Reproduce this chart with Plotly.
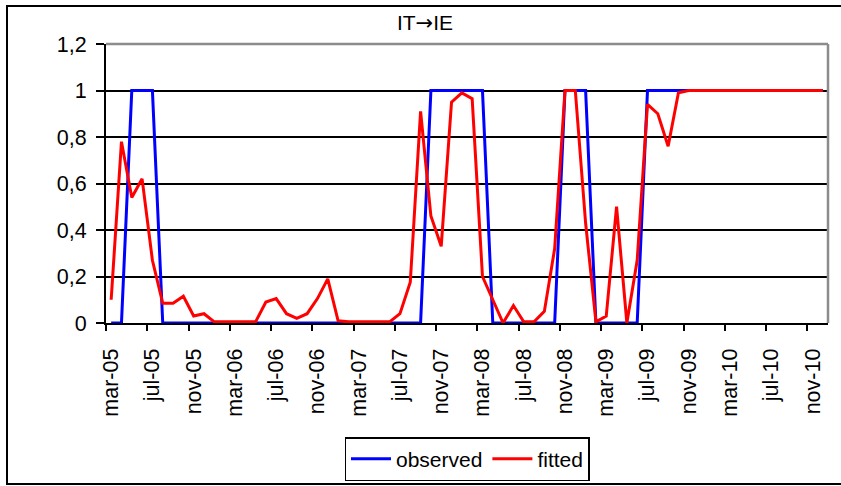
import plotly.graph_objects as go

# Monthly series, mar-05 .. dec-10 (70 months)
tick_labels = ["mar-05", "jul-05", "nov-05", "mar-06", "jul-06", "nov-06",
               "mar-07", "jul-07", "nov-07", "mar-08", "jul-08", "nov-08",
               "mar-09", "jul-09", "nov-09", "mar-10", "jul-10", "nov-10"]

observed = [0, 0, 1, 1, 1, 0, 0, 0, 0, 0,
            0, 0, 0, 0, 0, 0, 0, 0, 0, 0,
            0, 0, 0, 0, 0, 0, 0, 0, 0, 0,
            0, 1, 1, 1, 1, 1, 1, 0, 0, 0,
            0, 0, 0, 0, 1, 1, 1, 0, 0, 0,
            0, 0, 1, 1, 1, 1, 1, 1, 1, 1,
            1, 1, 1, 1, 1, 1, 1, 1, 1, 1]

fitted = [0.10, 0.78, 0.54, 0.62, 0.27, 0.085, 0.085, 0.115, 0.03, 0.04,
          0.005, 0.005, 0.005, 0.005, 0.005, 0.09, 0.105, 0.04, 0.02, 0.04,
          0.105, 0.19, 0.01, 0.005, 0.005, 0.005, 0.005, 0.005, 0.04, 0.175,
          0.91, 0.46, 0.33, 0.95, 0.99, 0.965, 0.20, 0.10, 0.0, 0.075,
          0.005, 0.005, 0.05, 0.32, 1.0, 1.0, 0.43, 0.005, 0.03, 0.50,
          0.0, 0.27, 0.94, 0.90, 0.76, 0.99, 1.0, 1.0, 1.0, 1.0,
          1.0, 1.0, 1.0, 1.0, 1.0, 1.0, 1.0, 1.0, 1.0, 1.0]

y_ticks = [0, 0.2, 0.4, 0.6, 0.8, 1.0, 1.2]
y_labels = ["0", "0,2", "0,4", "0,6", "0,8", "1", "1,2"]

n = len(observed)
x = list(range(n))
label_step = 4
label_pos = [i * label_step for i in range(len(tick_labels))]
# tick marks sit on category boundaries, half a month before each label
boundary_pos = [p - 0.5 for p in label_pos]

W, H = 841, 486
L, R, T, B = 106, 13, 44, 163
plot_w = W - L - R
plot_h = H - T - B

FONT = "Liberation Sans, Arial, sans-serif"
TICK_FONT = 21.5

fig = go.Figure()
fig.add_trace(go.Scatter(x=x, y=observed, mode="lines", name="observed",
                         line=dict(color="#0000ff", width=3)))
fig.add_trace(go.Scatter(x=x, y=fitted, mode="lines", name="fitted",
                         line=dict(color="#ff0000", width=3)))
# carrier for the boundary tick axis
fig.add_trace(go.Scatter(x=[], y=[], xaxis="x2", showlegend=False,
                         hoverinfo="skip"))


def px_x(p):
    return (p - L) / plot_w


def px_y(p):
    return (H - B - p) / plot_h


title_text = "IT<span style='font-family:DejaVu Sans'>\u2192</span>IE"

fig.update_layout(
    width=W, height=H,
    margin=dict(l=L, r=R, t=T, b=B, autoexpand=False),
    paper_bgcolor="white", plot_bgcolor="white",
    font=dict(family=FONT, size=21, color="black"),
    title=dict(text=title_text, x=425 / W, xref="container", xanchor="center",
               y=1 - 23 / H, yref="container", yanchor="middle",
               font=dict(size=21, family=FONT, color="black")),
    xaxis=dict(range=[-0.5, n - 0.5], tickmode="array", tickvals=label_pos,
               ticktext=tick_labels, tickangle=-90, ticks="outside",
               ticklen=7, tickcolor="rgba(0,0,0,0)", showgrid=False,
               zeroline=False, showline=True, linecolor="black", linewidth=2,
               layer="below traces", ticklabelstandoff=8, automargin=False,
               tickfont=dict(size=TICK_FONT)),
    xaxis2=dict(range=[-0.5, n - 0.5], overlaying="x", anchor="y",
                side="bottom", tickmode="array", tickvals=boundary_pos,
                ticks="outside", ticklen=7, tickwidth=1.5, tickcolor="black",
                showticklabels=False, showgrid=False, zeroline=False,
                showline=False, automargin=False),
    yaxis=dict(range=[0, 1.2], tickmode="array", tickvals=y_ticks,
               ticktext=y_labels, ticks="outside", ticklen=8, tickwidth=1.5,
               tickcolor="black", showline=True, linecolor="black",
               linewidth=2, showgrid=True, gridcolor="black", gridwidth=1.5,
               zeroline=False, layer="below traces", ticklabelstandoff=5,
               automargin=False, tickfont=dict(size=TICK_FONT)),
    legend=dict(orientation="h", x=0.5, xanchor="center",
                y=px_y(437), yanchor="top", bgcolor="white",
                bordercolor="black", borderwidth=1.5, itemwidth=40,
                font=dict(size=21, family=FONT)),
    shapes=[
        # grey plot-area frame on top and right
        dict(type="line", xref="x domain", yref="y domain", x0=0, x1=1,
             y0=1, y1=1, line=dict(color="#8c8c8c", width=2.5), layer="above"),
        dict(type="line", xref="x domain", yref="y domain", x0=1, x1=1,
             y0=0, y1=1, line=dict(color="#8c8c8c", width=2.5), layer="above"),
        # outer chart frame
        dict(type="rect", xref="paper", yref="paper",
             x0=px_x(7), x1=px_x(846), y0=px_y(484), y1=px_y(6),
             line=dict(color="black", width=2), fillcolor="rgba(0,0,0,0)",
             layer="above"),
    ],
)

fig.write_html("out.html")
